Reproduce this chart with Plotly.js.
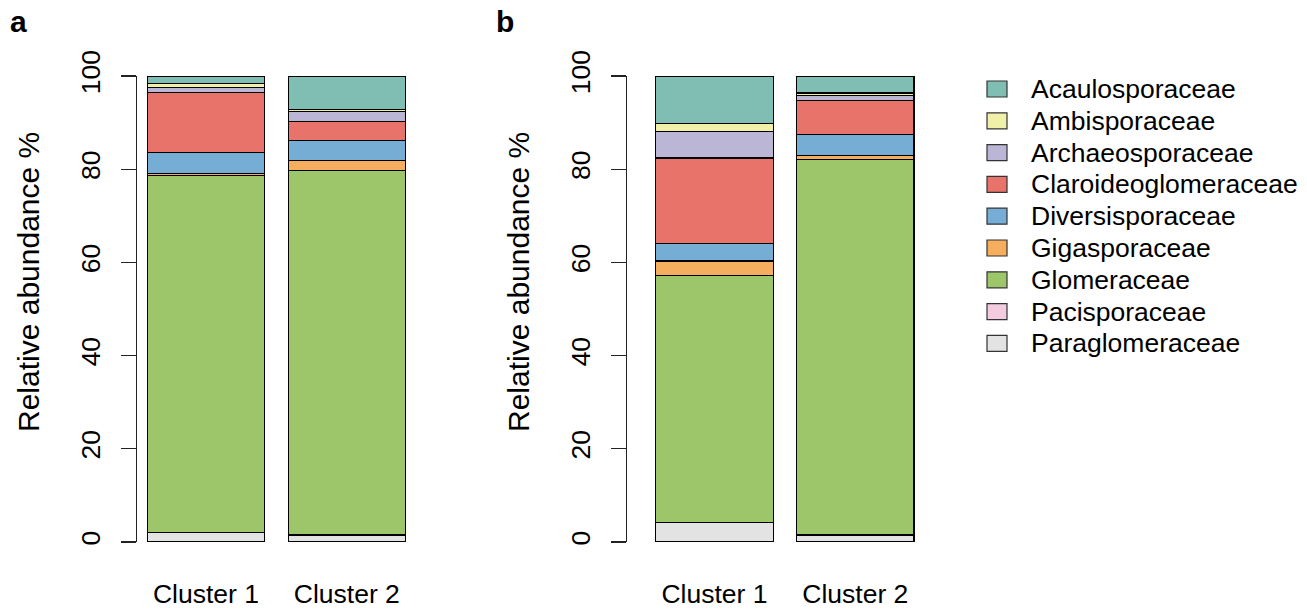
<!DOCTYPE html>
<html>
<head>
<meta charset="utf-8">
<script src="https://cdn.plot.ly/plotly-3.0.1.min.js"></script>
<style>html,body{margin:0;padding:0;background:#fff;}#chart{width:1307px;height:609px;}</style>
</head>
<body>
<div id="chart"></div>
<script>
// ---- data ----
const clusters = ["Cluster 1", "Cluster 2"];
const families = ["Acaulosporaceae", "Ambisporaceae", "Archaeosporaceae", "Claroideoglomeraceae",
  "Diversisporaceae", "Gigasporaceae", "Glomeraceae", "Pacisporaceae", "Paraglomeraceae"];
const colors = ["#80BEB4", "#F0F0A8", "#BBB6D6", "#E8736A", "#75ADD5", "#F5AE5E", "#9DC66A", "#F4CCE0", "#E3E3E3"];
// panel a values (%), per family, [Cluster 1, Cluster 2]
const panelA = {
  Acaulosporaceae: [1.6, 7.2],
  Ambisporaceae: [0.8, 0.5],
  Archaeosporaceae: [1.2, 2.0],
  Claroideoglomeraceae: [12.9, 4.1],
  Diversisporaceae: [4.5, 4.3],
  Gigasporaceae: [0.4, 2.2],
  Glomeraceae: [76.5, 78.2],
  Pacisporaceae: [0, 0],
  Paraglomeraceae: [2.1, 1.5]
};
// panel b values (%)
const panelB = {
  Acaulosporaceae: [10.2, 3.65],
  Ambisporaceae: [1.8, 0.5],
  Archaeosporaceae: [5.6, 1.05],
  Claroideoglomeraceae: [18.3, 7.3],
  Diversisporaceae: [3.8, 4.5],
  Gigasporaceae: [3.2, 1.0],
  Glomeraceae: [53.0, 80.5],
  Pacisporaceae: [0, 0],
  Paraglomeraceae: [4.1, 1.5]
};
const yTicks = [0, 20, 40, 60, 80, 100];

// ---- build ----
const W = 1307, H = 609;
const px = v => v / W, py = v => 1 - v / H;
const FONT = "Liberation Sans, Arial, Helvetica, sans-serif";
const FS = 26.5;
const traces = [];
const stackOrder = families.slice().reverse(); // bottom-up
[[panelA, "x", "y"], [panelB, "x2", "y2"]].forEach(([panel, xa, ya]) => {
  stackOrder.forEach(f => {
    const i = families.indexOf(f);
    traces.push({
      type: "bar", x: clusters, y: panel[f], name: f, xaxis: xa, yaxis: ya,
      marker: {color: colors[i], line: {color: "#000", width: panel[f].map(v => v > 0 ? 1.1 : 0)}},
      showlegend: false, cliponaxis: false, hoverinfo: "name+y"
    });
  });
});

const yaxisBase = {
  range: [0, 100], tickvals: yTicks, ticktext: yTicks.map(String),
  tickangle: -90, ticks: "outside", ticklen: 15, tickcolor: "#222", tickwidth: 1.2,
  ticklabelstandoff: 10,
  showline: true, linecolor: "#222", linewidth: 1.2, showgrid: false, zeroline: false,
  tickfont: {size: FS, color: "#000", family: FONT},
  domain: [py(542), py(76)], fixedrange: true
};
const xaxisBase = {
  type: "category", showline: false, showgrid: false, zeroline: false,
  ticks: "outside", ticklen: 28, tickcolor: "rgba(0,0,0,0)",
  tickfont: {size: FS, color: "#000", family: FONT}, fixedrange: true
};

const shapes = [], annotations = [];
families.forEach((f, i) => {
  const cy = 89 + i * 31.8;
  shapes.push({type: "rect", xref: "paper", yref: "paper",
    x0: px(987), x1: px(1007), y0: py(cy + 8), y1: py(cy - 8),
    fillcolor: colors[i], line: {color: "#333", width: 1.2}});
  annotations.push({xref: "paper", yref: "paper", x: px(1029), y: py(cy), xanchor: "left", yanchor: "middle",
    text: f, showarrow: false, font: {size: FS, color: "#000", family: FONT}});
});
annotations.push({xref: "paper", yref: "paper", x: px(8), y: py(22), xanchor: "left", yanchor: "middle",
  text: "<b>a</b>", showarrow: false, font: {size: 30, color: "#000", family: FONT}});
annotations.push({xref: "paper", yref: "paper", x: px(494), y: py(22), xanchor: "left", yanchor: "middle",
  text: "<b>b</b>", showarrow: false, font: {size: 30, color: "#000", family: FONT}});
[[28], [518]].forEach(([cx]) => {
  annotations.push({xref: "paper", yref: "paper", x: px(cx), y: py(282), xanchor: "center", yanchor: "middle",
    text: "Relative abundance %", textangle: -90, showarrow: false, font: {size: 30, color: "#000", family: FONT}});
});

const layout = {
  width: W, height: H, margin: {l: 0, r: 0, t: 0, b: 0},
  paper_bgcolor: "#fff", plot_bgcolor: "rgba(0,0,0,0)",
  barmode: "stack", bargap: 1 - 1 / 1.2, showlegend: false,
  font: {family: FONT, color: "#000"},
  xaxis: Object.assign({}, xaxisBase, {domain: [px(137), px(415.4)], range: [-0.490, 1.487], anchor: "y"}),
  yaxis: Object.assign({}, yaxisBase, {anchor: "x"}),
  xaxis2: Object.assign({}, xaxisBase, {domain: [px(627), px(950)], range: [-0.6215, 1.6726], anchor: "y2"}),
  yaxis2: Object.assign({}, yaxisBase, {anchor: "x2"}),
  shapes: shapes, annotations: annotations
};
Plotly.newPlot("chart", traces, layout, {staticPlot: true, displayModeBar: false});
</script>
</body>
</html>
